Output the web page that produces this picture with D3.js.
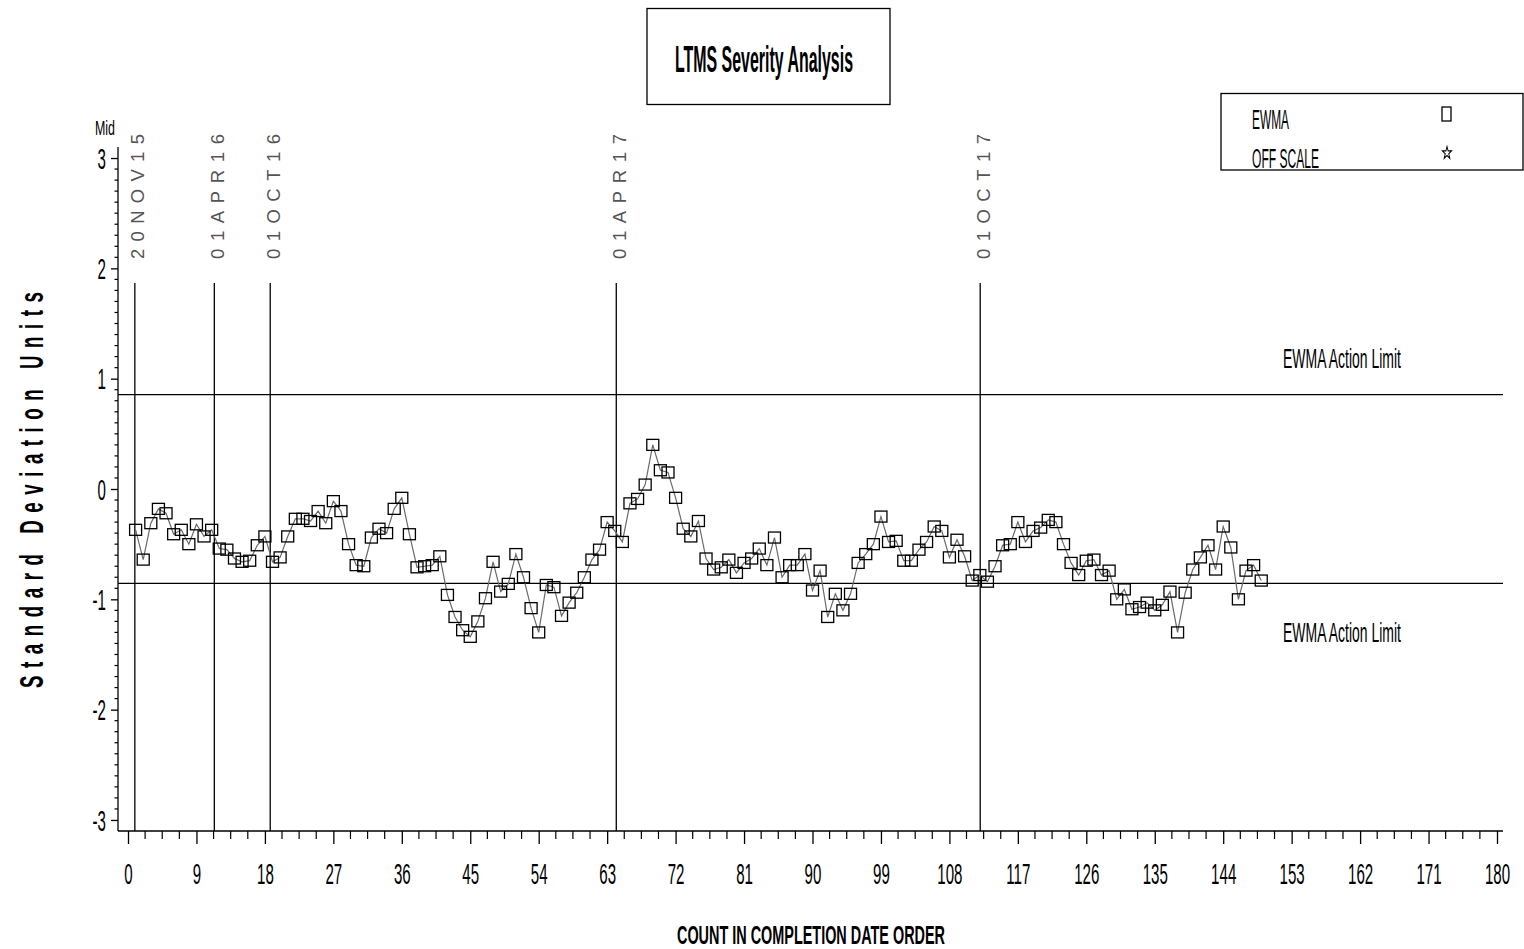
<!DOCTYPE html>
<html><head><meta charset="utf-8">
<script src="https://cdn.jsdelivr.net/npm/d3@7"></script>
<style>
body{margin:0;background:#fff}
text{font-family:"Liberation Sans",Arial,sans-serif}
</style>
</head><body>
<svg id="chart" width="1524" height="949"></svg>
<script>
// EWMA of severity, one value per test in completion order (count 1..149)
const ewma = [
 -0.37,-0.64,-0.31,-0.18,-0.22,-0.41,-0.37,-0.50,-0.32,-0.43,
 -0.37,-0.54,-0.55,-0.63,-0.66,-0.65,-0.51,-0.43,-0.66,-0.62,
 -0.43,-0.27,-0.27,-0.29,-0.20,-0.31,-0.11,-0.20,-0.50,-0.69,
 -0.70,-0.44,-0.36,-0.40,-0.18,-0.08,-0.41,-0.71,-0.70,-0.69,
 -0.61,-0.96,-1.16,-1.28,-1.34,-1.20,-0.99,-0.66,-0.93,-0.86,
 -0.59,-0.80,-1.08,-1.30,-0.87,-0.89,-1.15,-1.03,-0.94,-0.80,
 -0.64,-0.55,-0.30,-0.38,-0.48,-0.13,-0.09,0.04,0.40,0.17,
 0.15,-0.08,-0.36,-0.43,-0.29,-0.63,-0.73,-0.71,-0.64,-0.76,
 -0.67,-0.63,-0.54,-0.69,-0.44,-0.80,-0.69,-0.69,-0.59,-0.92,
 -0.74,-1.16,-0.95,-1.10,-0.95,-0.67,-0.59,-0.50,-0.25,-0.48,
 -0.47,-0.65,-0.65,-0.55,-0.48,-0.34,-0.38,-0.62,-0.46,-0.61,
 -0.83,-0.78,-0.84,-0.70,-0.51,-0.50,-0.30,-0.48,-0.38,-0.35,
 -0.28,-0.30,-0.50,-0.67,-0.78,-0.65,-0.64,-0.78,-0.74,-1.00,
 -0.91,-1.09,-1.07,-1.03,-1.10,-1.05,-0.93,-1.30,-0.94,-0.73,
 -0.62,-0.51,-0.73,-0.34,-0.53,-1.00,-0.74,-0.69,-0.83
];
// calendar reference lines (position in count units) and their dates
const dateLabels = ["20NOV15","01APR16","01OCT16","01APR17","01OCT17"];
const dateCounts = [0.9, 11.35, 18.7, 64.2, 112.05];
// EWMA action limits
const actionLimits = [0.855, -0.855];
const actionLabels = ["EWMA Action Limit","EWMA Action Limit"];
// axis ticks
const xTickValues = [0,9,18,27,36,45,54,63,72,81,90,99,108,117,126,135,144,153,162,171,180];
const yTickValues = [-3,-2,-1,0,1,2,3];

const svg = d3.select("#chart");

const x = d3.scaleLinear().domain([0,180]).range([128,1497]);
const y = d3.scaleLinear().domain([-3.1,3.1]).range([831,147]);
const axisLeftX = 118, axisBottomY = 831, axisRightX = 1503;

// title box
svg.append("rect").attr("x",647).attr("y",8.5).attr("width",243).attr("height",96)
  .attr("fill","none").attr("stroke","#000").attr("stroke-width",1.3);
svg.append("text").attr("x",675).attr("y",72).attr("font-size",36).attr("font-weight","bold")
  .attr("textLength",178).attr("lengthAdjust","spacingAndGlyphs").text("LTMS Severity Analysis");

// legend box
svg.append("rect").attr("x",1221).attr("y",93.5).attr("width",302).attr("height",76.5)
  .attr("fill","none").attr("stroke","#000").attr("stroke-width",1.3);
svg.append("text").attr("x",1252).attr("y",129).attr("font-size",27)
  .attr("textLength",37).attr("lengthAdjust","spacingAndGlyphs").text("EWMA");
svg.append("text").attr("x",1252).attr("y",168).attr("font-size",27)
  .attr("textLength",67).attr("lengthAdjust","spacingAndGlyphs").text("OFF SCALE");
svg.append("rect").attr("x",1442).attr("y",107).attr("width",9).attr("height",14)
  .attr("fill","none").attr("stroke","#000").attr("stroke-width",1.3);
svg.append("path").attr("transform","translate(1447,153) scale(0.8,1.1)")
  .attr("d",d3.symbol(d3.symbolStar,40)())
  .attr("fill","none").attr("stroke","#000").attr("stroke-width",1.1);

// y axis
const yAxis = d3.axisLeft(y).tickValues(yTickValues).tickSize(7).tickPadding(0)
  .tickFormat(d => String(d));
const gy = svg.append("g").attr("transform",`translate(${axisLeftX},0)`).call(yAxis);
gy.select(".domain").remove();
gy.selectAll(".tick line").attr("stroke","#000").attr("stroke-width",1.3);
gy.selectAll(".tick text").attr("font-size",29).attr("fill","#000")
  .attr("font-family","Liberation Sans, Arial, sans-serif")
  .attr("x",-12/0.52).attr("dy","0.35em").attr("transform","scale(0.52,1)");
// minor y ticks every 0.1
svg.append("g").selectAll("line")
  .data(d3.range(-30,31).filter(k => k % 10 !== 0).map(k => k/10))
  .join("line").attr("x1",axisLeftX-3.5).attr("x2",axisLeftX)
  .attr("y1",d=>y(d)).attr("y2",d=>y(d)).attr("stroke","#000").attr("stroke-width",1.2);
svg.append("line").attr("x1",axisLeftX).attr("x2",axisLeftX)
  .attr("y1",y(3.1)).attr("y2",axisBottomY).attr("stroke","#000").attr("stroke-width",1.3);
svg.append("text").attr("x",95).attr("y",135).attr("font-size",21)
  .attr("textLength",20).attr("lengthAdjust","spacingAndGlyphs").text("Mid");

// x axis
const xAxis = d3.axisBottom(x).tickValues(xTickValues).tickSize(13).tickPadding(0)
  .tickFormat(d3.format("d"));
const gx = svg.append("g").attr("transform",`translate(0,${axisBottomY})`).call(xAxis);
gx.select(".domain").remove();
gx.selectAll(".tick line").attr("stroke","#000").attr("stroke-width",1.3);
gx.selectAll(".tick text").attr("font-size",29).attr("fill","#000")
  .attr("font-family","Liberation Sans, Arial, sans-serif")
  .attr("y",53).attr("dy",0).attr("transform","scale(0.52,1)");
// minor x ticks every 2.25
svg.append("g").selectAll("line")
  .data(d3.range(0,81).filter(k => k % 4 !== 0).map(k => k*2.25))
  .join("line").attr("x1",d=>x(d)).attr("x2",d=>x(d))
  .attr("y1",axisBottomY).attr("y2",axisBottomY+8).attr("stroke","#000").attr("stroke-width",1.2);
svg.append("line").attr("x1",axisLeftX).attr("x2",axisRightX)
  .attr("y1",axisBottomY).attr("y2",axisBottomY).attr("stroke","#000").attr("stroke-width",1.3);

// axis titles
svg.append("text").attr("transform","translate(43,490) rotate(-90) scale(0.55,1)")
  .attr("text-anchor","middle").attr("font-size",34).attr("font-weight","bold")
  .attr("textLength",396/0.55).attr("lengthAdjust","spacing").text("Standard Deviation Units");
svg.append("text").attr("x",677).attr("y",944).attr("font-size",26).attr("font-weight","bold")
  .attr("textLength",268).attr("lengthAdjust","spacingAndGlyphs").text("COUNT IN COMPLETION DATE ORDER");

// action limits
svg.append("g").selectAll("line").data(actionLimits).join("line")
  .attr("x1",axisLeftX).attr("x2",axisRightX).attr("y1",d=>y(d)).attr("y2",d=>y(d))
  .attr("stroke","#000").attr("stroke-width",1.3);
svg.append("g").selectAll("text").data(actionLimits).join("text")
  .attr("x",1283).attr("y",(d,i)=> i===0 ? y(d)-27 : y(d)+59)
  .attr("font-size",27).attr("textLength",118).attr("lengthAdjust","spacingAndGlyphs")
  .text((d,i)=>actionLabels[i]);

// date reference lines with rotated labels
const dates = svg.append("g");
dates.selectAll("line").data(dateCounts).join("line")
  .attr("x1",d=>x(d)).attr("x2",d=>x(d)).attr("y1",283).attr("y2",axisBottomY)
  .attr("stroke","#000").attr("stroke-width",1.3);
dates.selectAll("text").data(dateCounts).join("text")
  .attr("transform",d=>`translate(${x(d)+9.5},259) rotate(-90)`)
  .attr("font-size",18.5).attr("fill","#555")
  .attr("textLength",125).attr("lengthAdjust","spacing")
  .text((d,i)=>dateLabels[i]);

// EWMA series
const pts = ewma.map((v,i)=>({count:i+1, value:v}));
svg.append("path").datum(pts)
  .attr("d",d3.line().x(d=>x(d.count)).y(d=>y(d.value)))
  .attr("fill","none").attr("stroke","#6a6a6a").attr("stroke-width",1.2);
svg.append("g").selectAll("rect").data(pts).join("rect")
  .attr("x",d=>x(d.count)-6).attr("y",d=>y(d.value)-5.5)
  .attr("width",12).attr("height",11)
  .attr("fill","none").attr("stroke","#000").attr("stroke-width",1.3);
</script>
</body></html>
